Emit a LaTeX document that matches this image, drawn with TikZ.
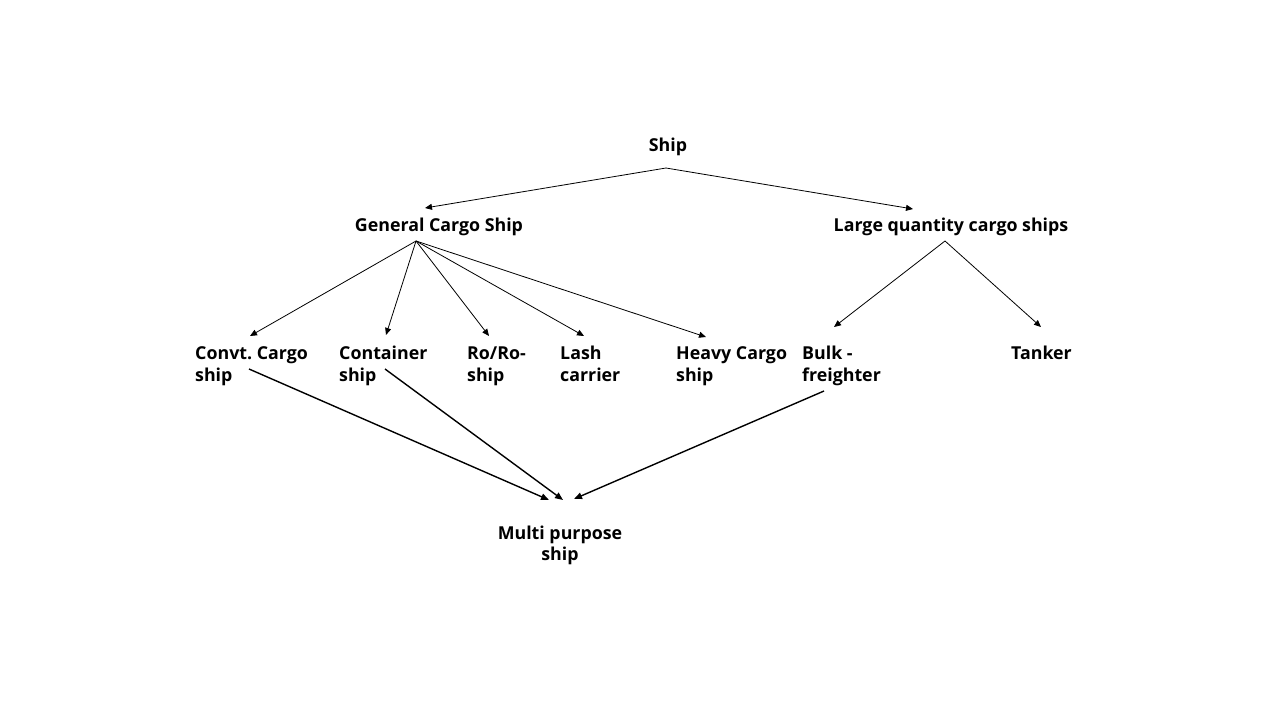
\documentclass[tikz,border=0pt]{standalone}
\usepackage{fontspec}
\setmainfont{Open Sans}
\usetikzlibrary{arrows.meta}
\frenchspacing
\begin{document}
\begin{tikzpicture}[x=1pt,y=-1pt,
  lbl/.style={font=\bfseries\fontsize{17.8}{21.5}\selectfont, inner sep=0pt, align=left, anchor=north west},
  thin/.style={line width=0.8pt, -{Triangle[length=7pt,width=6pt]}},
  thick/.style={line width=1.4pt, -{Triangle[length=8pt,width=6.5pt]}}]
\useasboundingbox[fill=white] (0,0) rectangle (1280,720);
% nodes
\node[lbl, anchor=base] (ship) at (668,151.5) {Ship};
\node[lbl, anchor=base] (gcs) at (439,231) {General Cargo Ship};
\node[lbl, anchor=base] (lqc) at (951,231) {Large quantity cargo ships};
\node[lbl] (convt) at (195,344.5) {\strut Convt.\ Cargo\\ship};
\node[lbl] (cont) at (339,344.5) {\strut Container\\ship};
\node[lbl] (roro) at (467,344.5) {\strut Ro/Ro-\\ship};
\node[lbl] (lash) at (560,344.5) {\strut Lash\\carrier};
\node[lbl] (heavy) at (676,344.5) {\strut Heavy Cargo\\ship};
\node[lbl] (bulk) at (802,344.5) {\strut Bulk -\\freighter};
\node[lbl] (tank) at (1011,344.5) {\strut Tanker};
\node[lbl, align=center, anchor=north] (multi) at (560,524.2) {\strut Multi purpose\\ship};
% connector end points
\coordinate (shipout) at (666,168);
\coordinate (gcsin) at (425,208);
\coordinate (lqcin) at (913,209);
\coordinate (gcsout) at (416,241);
\coordinate (lqcout) at (945,241);
\coordinate (convtin) at (250,336);
\coordinate (contin) at (386,335);
\coordinate (roroin) at (489,336);
\coordinate (lashin) at (584,336);
\coordinate (heavyin) at (706,337);
\coordinate (bulkin) at (834,327);
\coordinate (tankin) at (1041,327);
\coordinate (convtout) at (249,369);
\coordinate (contout) at (385,369);
\coordinate (bulkout) at (824,391);
\coordinate (multiin1) at (549,500);
\coordinate (multiin2) at (563,500);
\coordinate (multiin3) at (574,499);
% connectors
\draw[thin] (shipout) -- (gcsin);
\draw[thin] (shipout) -- (lqcin);
\draw[thin] (gcsout) -- (convtin);
\draw[thin] (gcsout) -- (contin);
\draw[thin] (gcsout) -- (roroin);
\draw[thin] (gcsout) -- (lashin);
\draw[thin] (gcsout) -- (heavyin);
\draw[thin] (lqcout) -- (bulkin);
\draw[thin] (lqcout) -- (tankin);
\draw[thick] (convtout) -- (multiin1);
\draw[thick] (contout) -- (multiin2);
\draw[thick] (bulkout) -- (multiin3);
\end{tikzpicture}
\end{document}
